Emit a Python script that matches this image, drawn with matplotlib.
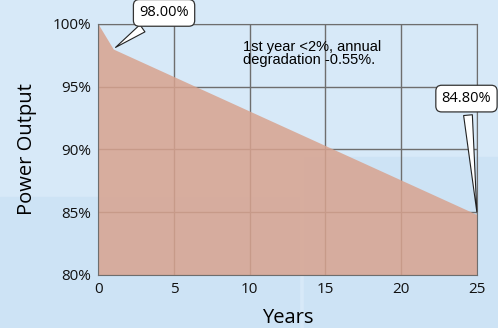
import matplotlib
matplotlib.use("Agg")
import matplotlib.pyplot as plt
from matplotlib.patches import Rectangle

years = [0, 1, 25]
output = [100.0, 98.0, 84.8]
y_ticks = [80, 85, 90, 95, 100]
y_labels = ["80%", "85%", "90%", "95%", "100%"]
x_ticks = [0, 5, 10, 15, 20, 25]
note = "1st year <2%, annual\ndegradation -0.55%."

BG = "#d7e9f8"
fig = plt.figure(figsize=(4.98, 3.28), dpi=100, facecolor=BG)
# faint watermark blocks in the background
for x0, y0, w, h in [(0.61, 0.0, 0.39, 0.52), (0.0, 0.0, 0.6, 0.4)]:
    fig.patches.append(Rectangle((x0, y0), w, h, transform=fig.transFigure,
                                 color="#cde3f5", zorder=-5))
ax = fig.add_axes([0.197, 0.162, 0.761, 0.765])
ax.set_zorder(2)
ax.set_facecolor("none")

ax.fill_between(years, output, 80, color="#d8a38f", alpha=0.85, lw=0, zorder=1)
ax.set_xlim(0, 25)
ax.set_ylim(80, 100)
ax.set_xticks(x_ticks)
ax.set_yticks(y_ticks)
ax.set_yticklabels(y_labels)
ax.grid(True, color="#6e6e6e", lw=1.0, zorder=0)
ax.set_axisbelow(True)
for s in ax.spines.values():
    s.set_color("#6e6e6e")
ax.tick_params(length=0, labelsize=11, pad=5, labelcolor="#111111")
for lab in ax.get_xticklabels() + ax.get_yticklabels():
    lab.set_family("Open Sans")

ax.set_xlabel("Years", fontsize=14.5, family="Open Sans", labelpad=8)
ax.set_ylabel("Power Output", fontsize=14.5, family="Open Sans", labelpad=11)

ax.text(9.55, 98.75, note, fontsize=10.5, family="Liberation Sans",
        va="top", ha="left", linespacing=0.95)

box = dict(boxstyle="round,pad=0.4,rounding_size=0.4", fc="white", ec="#333333", lw=0.9)
wedge = dict(arrowstyle="wedge,tail_width=0.6,shrink_factor=0.5", fc="white",
             ec="#222222", lw=0.8)
ax.annotate(f"{output[1]:.2f}%", xy=(years[1], output[1]), xytext=(4.35, 100.88),
            ha="center", va="center", fontsize=10.5, family="Open Sans",
            bbox=box, arrowprops=wedge, annotation_clip=False)
ax.annotate(f"{output[2]:.2f}%", xy=(years[2], output[2]), xytext=(24.3, 94.05),
            ha="center", va="center", fontsize=10.5, family="Open Sans",
            bbox=box, arrowprops=wedge, annotation_clip=False)

fig.savefig("out.png", dpi=100, facecolor=BG)
